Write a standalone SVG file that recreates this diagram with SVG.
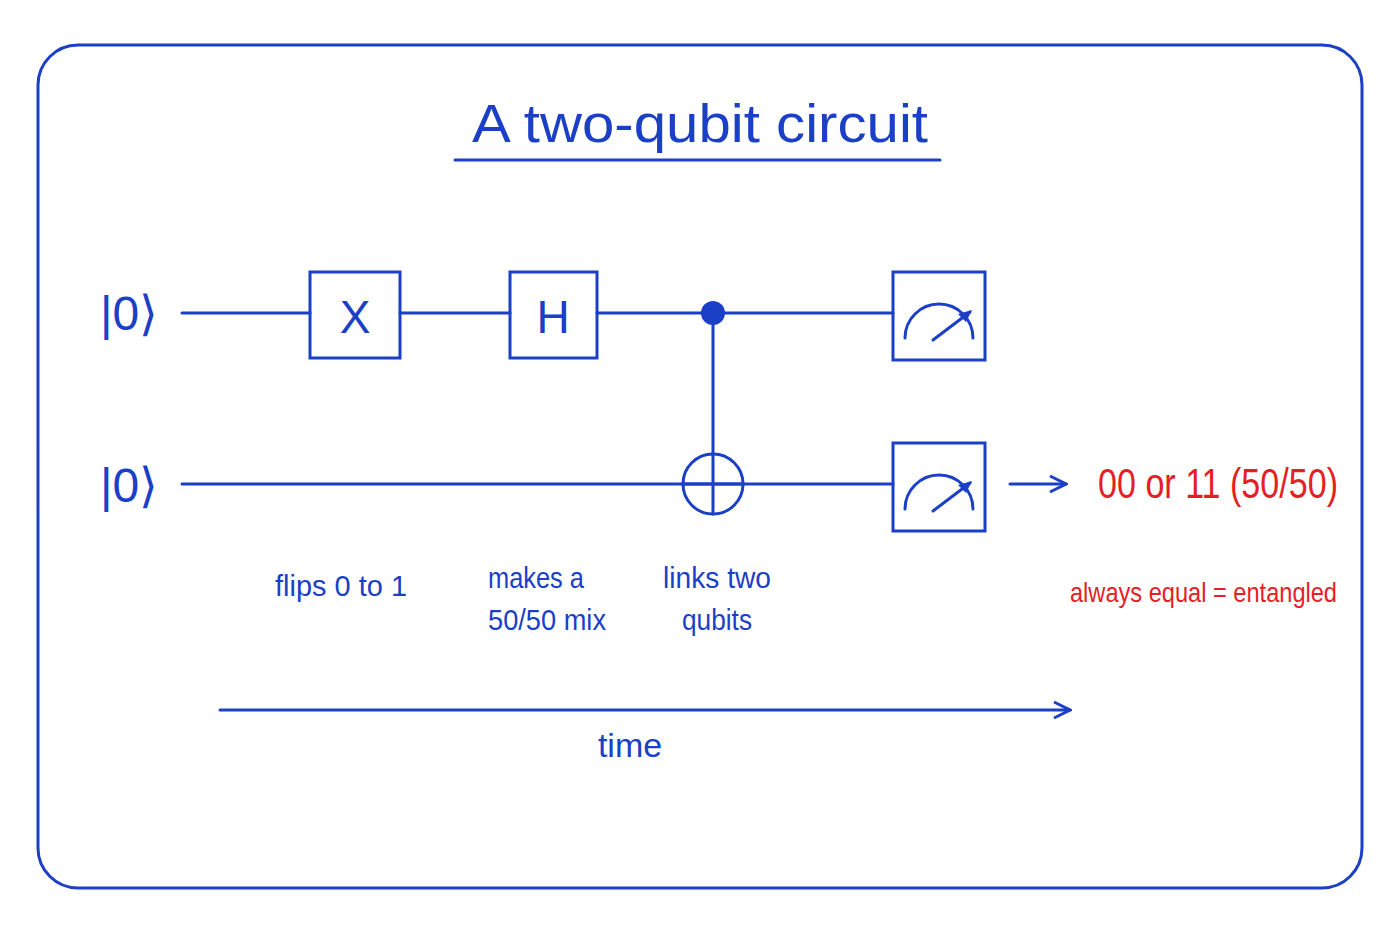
<svg xmlns="http://www.w3.org/2000/svg" width="1400" height="934" viewBox="0 0 1400 934">
<defs>
<style>
.s{stroke:#1b3fc6;stroke-width:3;fill:none;stroke-linecap:round}
.t{fill:#1b3fc6;font-family:"Liberation Sans",sans-serif}
.r{fill:#e61e25;font-family:"Liberation Sans",sans-serif}
</style>
<marker id="a" viewBox="0 0 20 20" refX="18" refY="10" markerWidth="20" markerHeight="20" markerUnits="userSpaceOnUse" orient="auto"><path d="M2 2 L18 10 L2 18" fill="none" stroke="#1b3fc6" stroke-width="3"/></marker>
</defs>
<rect width="1400" height="934" fill="#fff"/>
<rect class="s" x="38" y="45" width="1324" height="843" rx="40"/>
<g id="title"><text class="t" x="700" y="142" font-size="54" text-anchor="middle" textLength="456" lengthAdjust="spacingAndGlyphs">A two-qubit circuit</text>
<line class="s" x1="455" y1="160" x2="940" y2="160"/></g>
<g id="connectors">
<line class="s" x1="182" y1="313" x2="310" y2="313"/>
<line class="s" x1="400" y1="313" x2="510" y2="313"/>
<line class="s" x1="597" y1="313" x2="893" y2="313"/>
<line class="s" x1="182" y1="484" x2="893" y2="484"/>
<line class="s" x1="713" y1="313" x2="713" y2="454"/>
<line class="s" x1="1010" y1="484" x2="1066" y2="484" marker-end="url(#a)"/>
<line class="s" x1="220" y1="710" x2="1070" y2="710" marker-end="url(#a)"/>
</g>
<g id="in1"><text class="t" x="100" y="330" font-size="48">|0⟩</text></g>
<g id="in2"><text class="t" x="100" y="502" font-size="48">|0⟩</text></g>
<g id="x"><rect class="s" x="310" y="272" width="90" height="86" fill="#fff"/><text class="t" x="355" y="333" font-size="46" text-anchor="middle">X</text></g>
<g id="h"><rect class="s" x="510" y="272" width="87" height="86" fill="#fff"/><text class="t" x="553" y="333" font-size="46" text-anchor="middle">H</text></g>
<g id="ctrl"><circle cx="713" cy="313" r="12" fill="#1b3fc6"/></g>
<g id="target"><circle class="s" cx="713" cy="484" r="30" fill="#fff"/><line class="s" x1="683" y1="484" x2="743" y2="484"/><line class="s" x1="713" y1="454" x2="713" y2="514"/></g>
<g id="m1"><rect class="s" x="893" y="272" width="92" height="88"/><path class="s" d="M905 338 A34 34 0 0 1 973 338"/><line class="s" x1="933" y1="340" x2="970" y2="312"/><path d="M972 310 L958 314 L966 322Z" fill="#1b3fc6"/></g>
<g id="m2"><rect class="s" x="893" y="443" width="92" height="88"/><path class="s" d="M905 509 A34 34 0 0 1 973 509"/><line class="s" x1="933" y1="511" x2="970" y2="483"/><path d="M972 481 L958 485 L966 493Z" fill="#1b3fc6"/></g>
<g id="labels">
<text class="t" x="275" y="596" font-size="30" textLength="132" lengthAdjust="spacingAndGlyphs">flips 0 to 1</text>
<text class="t" x="488" y="588" font-size="30" textLength="96" lengthAdjust="spacingAndGlyphs">makes a</text>
<text class="t" x="488" y="630" font-size="30" textLength="118" lengthAdjust="spacingAndGlyphs">50/50 mix</text>
<text class="t" x="663" y="588" font-size="30" textLength="108" lengthAdjust="spacingAndGlyphs">links two</text>
<text class="t" x="682" y="630" font-size="30" textLength="70" lengthAdjust="spacingAndGlyphs">qubits</text>
<text class="t" x="630" y="757" font-size="34" text-anchor="middle">time</text>
<text class="r" x="1098" y="498" font-size="42" textLength="240" lengthAdjust="spacingAndGlyphs">00 or 11 (50/50)</text>
<text class="r" x="1070" y="602" font-size="28" textLength="267" lengthAdjust="spacingAndGlyphs">always equal = entangled</text>
</g>
</svg>
